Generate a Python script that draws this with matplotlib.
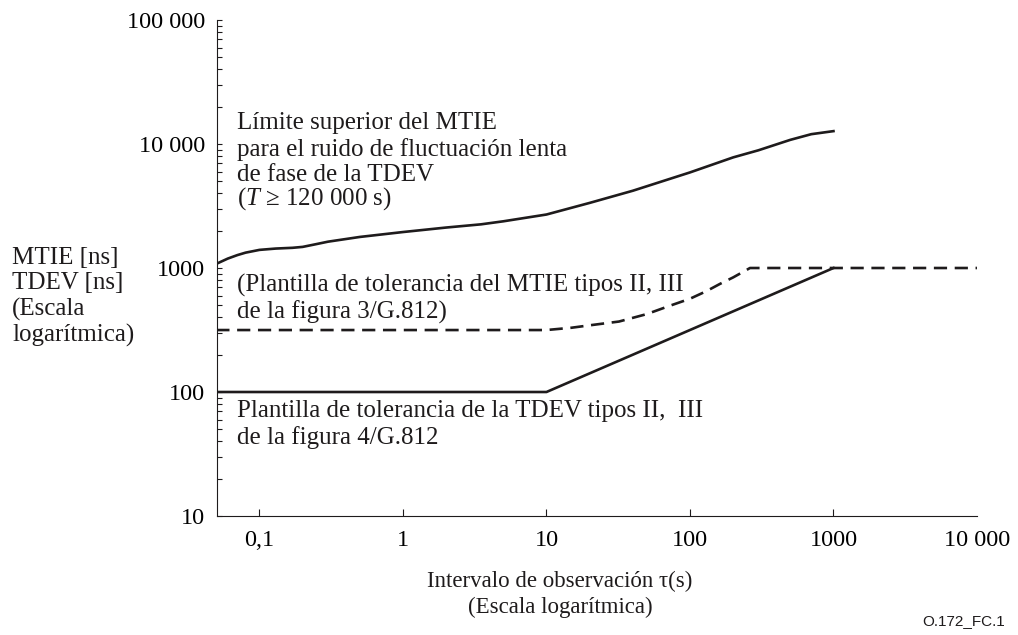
import matplotlib
matplotlib.use("Agg")
import matplotlib.pyplot as plt

plt.rcParams['font.family'] = ['Liberation Serif', 'DejaVu Serif']
plt.rcParams['mathtext.fontset'] = 'custom'
plt.rcParams['mathtext.rm'] = 'Liberation Serif'
plt.rcParams['mathtext.it'] = 'Liberation Serif:italic'
plt.rcParams['lines.scale_dashes'] = False

INK = '#1e1b1c'

# limite superior del MTIE (ruido de fluctuacion lenta)
tau_mtie_sup = [0.05, 0.06, 0.07, 0.08, 0.1, 0.13, 0.17, 0.2, 0.25, 0.3, 0.5,
                1, 2, 3.5, 5, 10, 20, 40, 100, 200, 300, 500, 700, 1000]
mtie_sup = [1080, 1190, 1270, 1330, 1400, 1435, 1455, 1480, 1560, 1630, 1780,
            1950, 2120, 2250, 2380, 2700, 3350, 4200, 5900, 7800, 8900, 10800,
            12000, 12700]

# plantilla MTIE tipos II, III (fig. 3/G.812)
tau_mtie_pl = [0.05, 10, 15, 20, 32, 50, 72, 100, 130, 162, 200, 262, 10000]
mtie_pl = [316, 316, 330, 345, 370, 425, 495, 565, 650, 745, 840, 1000, 1000]

# plantilla TDEV tipos II, III (fig. 4/G.812)
tau_tdev = [0.05, 10, 1000]
tdev = [100, 100, 1000]

xticks = [0.1, 1, 10, 100, 1000, 10000]
xticklabels = ['0,1', '1', '10', '100', '1000', '10 000']
yticks = [10, 100, 1000, 10000, 100000]
yticklabels = ['10', '100', '1000', '10 000', '100 000']

FS = 18

fig = plt.figure(figsize=(10.18, 6.35), dpi=100)
ax = fig.add_axes([0.2132, 0.1874, 0.7465, 0.7811])

ax.plot(tau_mtie_sup, mtie_sup, color=INK, lw=1.9)
ax.plot(tau_mtie_pl, mtie_pl, color=INK, lw=1.9, dashes=(9.5, 5.5))
ax.plot(tau_tdev, tdev, color=INK, lw=1.9)

ax.set_xscale('log')
ax.set_yscale('log')
ax.set_xlim(0.0506, 10000)
ax.set_ylim(10, 100000)

for s in ['top', 'right']:
    ax.spines[s].set_visible(False)
for s in ['left', 'bottom']:
    ax.spines[s].set_linewidth(0.8)
    ax.spines[s].set_color(INK)

ax.set_xticks(xticks)
ax.set_xticklabels(xticklabels)
ax.xaxis.set_minor_locator(matplotlib.ticker.NullLocator())
ax.set_yticks(yticks)
ax.set_yticklabels(yticklabels)
ax.yaxis.set_minor_locator(matplotlib.ticker.LogLocator(base=10, subs=range(2, 10)))
ax.yaxis.set_minor_formatter(matplotlib.ticker.NullFormatter())

ax.tick_params(axis='x', which='major', direction='in', length=5, width=0.8,
               color=INK, labelsize=17.5, pad=10)
ax.tick_params(axis='y', which='both', direction='in', length=3.8, width=0.8,
               color=INK, labelsize=17.5, pad=8.5)
ax.xaxis.get_major_ticks()[-1].tick1line.set_visible(False)

txt = dict(fontsize=FS, color=INK, linespacing=1.2, va='center', ha='left')
ax.text(0.07, 9120,
        'Límite superior del MTIE\npara el ruido de fluctuación lenta\n'
        'de fase de la TDEV', **txt)
ax.text(0.07, 3600, '($\\mathit{T}$ ≥ 120 000 s)', **txt)
ax.text(0.07, 568,
        '(Plantilla de tolerancia del MTIE tipos II, III\nde la figura 3/G.812)', **txt)
ax.text(0.07, 54.5,
        'Plantilla de tolerancia de la TDEV tipos II,  III\nde la figura 4/G.812', **txt)

fig.text(12 / 1018, 1 - 297 / 635, 'MTIE [ns]\nTDEV [ns]\n(Escala\nlogarítmica)',
         fontsize=FS, color=INK, linespacing=1.2, va='center', ha='left')
fig.text(560 / 1018, 1 - 594 / 635, 'Intervalo de observación τ(s)\n(Escala logarítmica)',
         fontsize=16.5, color=INK, linespacing=1.3, va='center', ha='center')
fig.text(1005 / 1018, 1 - 621 / 635, 'O.172_FC.1', family='Liberation Sans',
         fontsize=11, color=INK, va='center', ha='right')

fig.savefig('out.png', dpi=100)
